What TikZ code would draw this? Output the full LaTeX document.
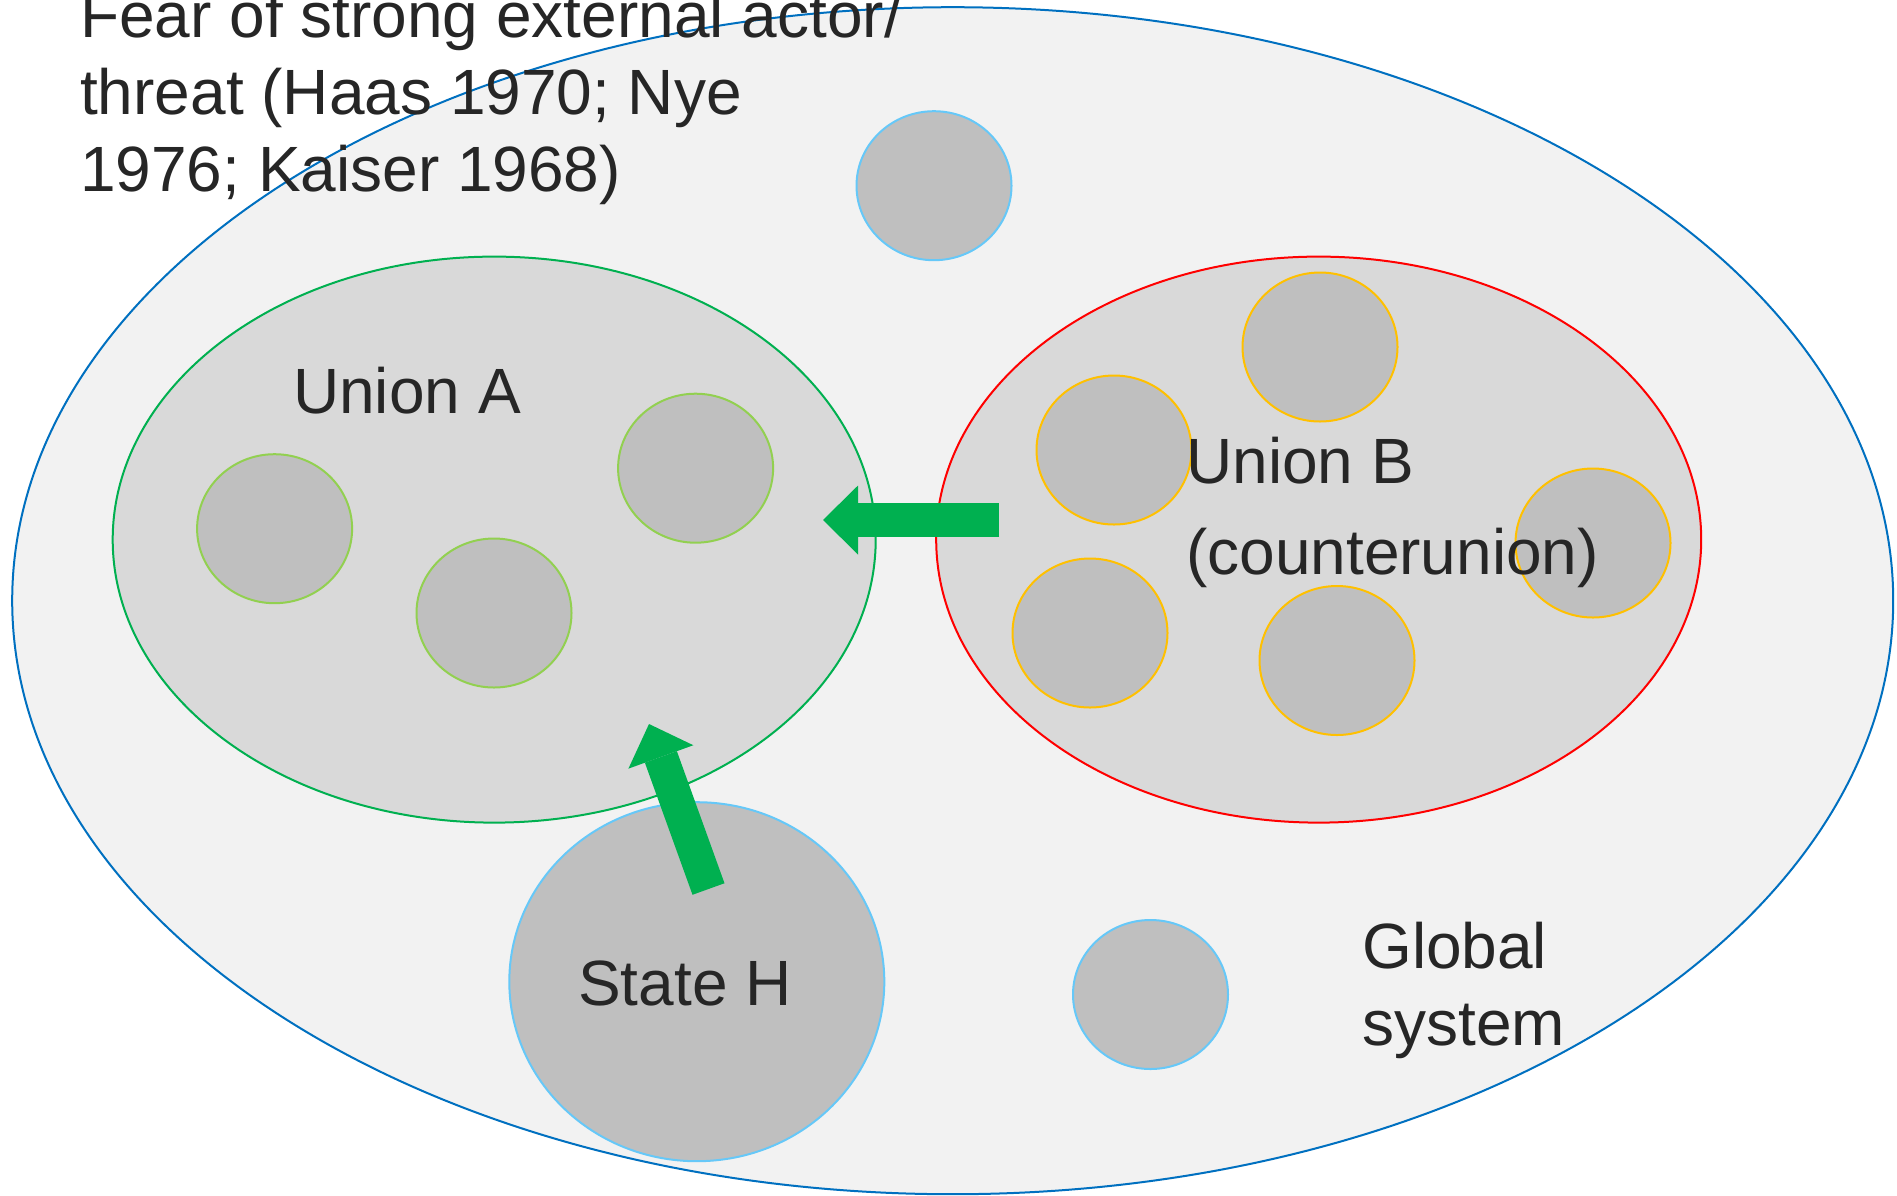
\documentclass[tikz,border=0pt]{standalone}
\usepackage{fontspec}
\setmainfont{Liberation Sans}
\usetikzlibrary{shapes.geometric,arrows.meta}
\definecolor{sysfill}{HTML}{F2F2F2}
\definecolor{sysline}{HTML}{0070C0}
\definecolor{unionfill}{HTML}{D9D9D9}
\definecolor{actorfill}{HTML}{BFBFBF}
\definecolor{agreen}{HTML}{00B050}
\definecolor{lgreen}{HTML}{92D050}
\definecolor{borange}{HTML}{FFC000}
\definecolor{lblue}{HTML}{66C8F8}
\definecolor{txtgray}{HTML}{262626}
\begin{document}
\begin{tikzpicture}[x=1pt,y=-1pt,
  blob/.style={ellipse,inner sep=0pt,line width=2pt},
  actor/.style={blob,fill=actorfill,minimum width=155pt,minimum height=149pt},
  txt/.style={inner sep=0pt,anchor=base west,align=left,text=txtgray,
    font=\fontsize{64}{77}\selectfont},
  blockarrow/.style={agreen,line width=34pt,
    -{Triangle[length=35pt 0,width=69pt 0,line width=0pt]}}]
\useasboundingbox (0,0) rectangle (1897,1195);
\node[blob,draw=sysline,fill=sysfill,minimum width=1881pt,minimum height=1187pt] (sys) at (952.7,600.7) {};
\node[blob,draw=agreen,fill=unionfill,minimum width=763pt,minimum height=566pt] (ua) at (494.2,539.6) {};
\node[blob,draw=red,fill=unionfill,minimum width=765pt,minimum height=566pt] (ub) at (1318.7,539.6) {};
\node[actor,draw=lblue] (c0) at (934,185.7) {};
\node[actor,draw=lgreen] (a1) at (274.6,528.7) {};
\node[actor,draw=lgreen] (a2) at (494,613) {};
\node[actor,draw=lgreen] (a3) at (695.6,468.2) {};
\node[actor,draw=borange] (b1) at (1320,347) {};
\node[actor,draw=borange] (b2) at (1114,450) {};
\node[actor,draw=borange] (b3) at (1593,543) {};
\node[actor,draw=borange] (b4) at (1090,633) {};
\node[actor,draw=borange] (b5) at (1337,660.5) {};
\node[actor,draw=lblue] (g1) at (1150.5,994.5) {};
\node[actor,draw=lblue,minimum width=375pt,minimum height=359pt] (sh) at (696.8,981.7) {};
\node[txt] (fear) at (80,191) {Fear of strong external actor/\\threat (Haas 1970; Nye\\1976; Kaiser 1968)};
\node[txt] (lua) at (293,413) {Union A};
\node[txt] (lub) at (1186,574) {Union B\\[14pt](counterunion)};
\node[txt] (lsh) at (578,1005) {State H};
\node[txt] (lsys) at (1362,1045) {Global\\system};
\coordinate (tailb) at (999,520);
\coordinate (tipb) at (823,520);
\coordinate (tailh) at (708.5,889);
\coordinate (tiph) at (649,724);
\draw[blockarrow] (tailb) -- (tipb);
\draw[blockarrow] (tailh) -- (tiph);
\end{tikzpicture}
\end{document}
